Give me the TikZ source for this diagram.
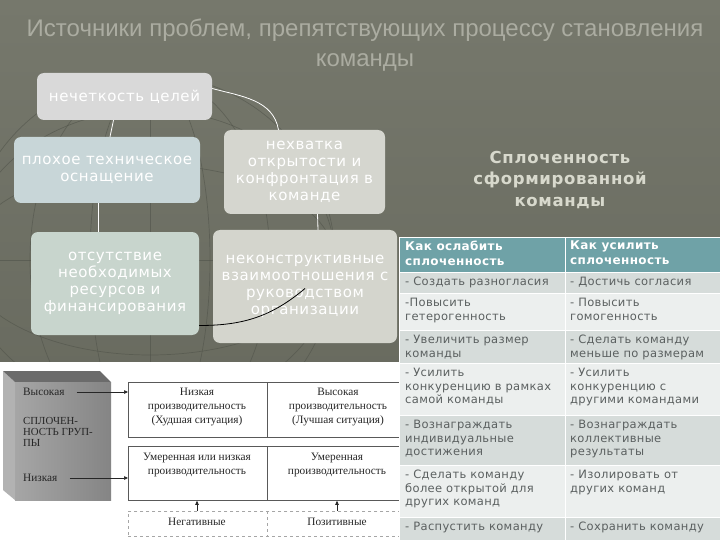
\documentclass[tikz,border=0pt]{standalone}
\usepackage{fontspec}
\setmainfont{DejaVu Sans}
\newfontfamily\titlefont{Liberation Sans}
\newfontfamily\serifru{Liberation Serif}
\newfontfamily\verd{DejaVu Sans}
\newfontfamily\verdsp[LetterSpace=4]{DejaVu Sans}
\newfontfamily\verdtab[LetterSpace=3]{DejaVu Sans}
\usetikzlibrary{arrows.meta}
\definecolor{bgtop}{HTML}{76786C}
\definecolor{bgbot}{HTML}{63655A}
\definecolor{titlec}{HTML}{ABACA1}
\definecolor{fA}{HTML}{D9D9D9}
\definecolor{fB}{HTML}{C8D6D8}
\definecolor{fC}{HTML}{D5D6CF}
\definecolor{fD}{HTML}{C8D5CD}
\definecolor{fE}{HTML}{D4D5CD}
\definecolor{splc}{HTML}{D8D9CD}
\definecolor{hdr}{HTML}{6FA2A7}
\definecolor{rowdark}{HTML}{D6DCDA}
\definecolor{rowlight}{HTML}{ECEFEE}
\definecolor{tabtxt}{HTML}{5B6060}
\definecolor{globec}{HTML}{4E5148}
\tikzset{
  probbox/.style={rounded corners=7pt, inner sep=2pt, text=white, align=center,
    font=\verdsp\fontsize{15}{17}\selectfont},
  link/.style={draw=white, line width=0.8pt},
  tcell/.style={anchor=north west, inner sep=0pt, align=left, text=tabtxt,
    font=\verdtab\fontsize{11.5}{13.5}\selectfont},
  thead/.style={anchor=north west, inner sep=0pt, align=left, text=white,
    font=\verdtab\bfseries\fontsize{12}{14.5}\selectfont},
  sertxt/.style={inner sep=0pt, text=black!85, align=center,
    font=\serifru\fontsize{11.3}{14}\selectfont},
  gridbox/.style={draw=black!65, line width=0.8pt, anchor=north west, inner sep=0pt},
  globe/.style={draw=globec, line width=0.7pt, opacity=0.55},
  smallarrow/.style={-{Triangle[length=4pt,width=3.5pt]}, line width=0.7pt, black!85}
}
\begin{document}
\begin{tikzpicture}[x=1pt,y=-1pt]
\useasboundingbox (0,0) rectangle (720,540);
\shade[top color=bgtop,bottom color=bgbot] (0,0) rectangle (720,540);

% globe wireframe (background decoration)
\begin{scope}
\clip (0,60) rectangle (398,362);
\draw[globe] (150,260) circle (185);
\draw[globe] (150,260) ellipse (185 and 95);
\draw[globe] (150,260) ellipse (185 and 150);
\draw[globe] (150,260) ellipse (60 and 185);
\draw[globe] (150,260) ellipse (120 and 185);
\draw[globe] (-35,260) -- (335,260);
\draw[globe] (150,75) -- (150,362);
\end{scope}

% title
\node[text=titlec, align=center, font=\titlefont\fontsize{24}{30}\selectfont] (title) at (365,45)
  {Источники проблем, препятствующих процессу становления\\команды};

% problem boxes
\node[probbox, fill=fA, minimum width=175pt, minimum height=47pt] (nech) at (124.5,96.5) {нечеткость целей};
\node[probbox, fill=fB, minimum width=186pt, minimum height=66pt] (ploh) at (107,170) {плохое техническое\\оснащение};
\node[probbox, fill=fC, minimum width=161pt, minimum height=84pt] (nehv) at (304.5,172) {нехватка\\открытости и\\конфронтация в\\команде};
\node[probbox, fill=fD, minimum width=168pt, minimum height=103pt] (ots) at (115,283.5) {отсутствие\\необходимых\\ресурсов и\\финансирования};
\node[probbox, fill=fE, minimum width=184pt, minimum height=113pt] (nekon) at (305,286.5) {неконструктивные\\взаимоотношения с\\руководством\\организации};

\draw[link] ([xshift=-11pt]nech.south) -- ([xshift=3pt]ploh.north);
\draw[link] ([yshift=8pt]nech.east) to[out=-15,in=100] ([xshift=-26pt]nehv.north);
\draw[link] ([xshift=-9pt]ploh.south) -- ([xshift=-17pt]ots.north);
\draw[link] ([xshift=13pt]nehv.south) -- ([xshift=13pt]nekon.north);
\draw[black, line width=0.8pt] ([yshift=-42pt]ots.east) to[out=0,in=-140] ([yshift=-2pt]nekon.center);

% heading on the right
\node[text=splc, align=center, font=\verdsp\bfseries\fontsize{16.5}{21.5}\selectfont] (spl) at (560,180)
  {Сплоченность\\сформированной\\команды};

% bottom-left picture
\fill[white] (0,362) rectangle (399,540);
\fill[black!30] (3,371) -- (15,382) -- (15,500) -- (3,490) -- cycle;
\fill[black!58] (3,371) -- (100,371) -- (111,382) -- (15,382) -- cycle;
\shade[left color=black!35, right color=black!48] (15,382) rectangle (111,500);
\node[sertxt, anchor=west] (vys) at (23,392) {Высокая};
\node[sertxt, anchor=west, align=left, font=\serifru\fontsize{10.8}{11}\selectfont] (splg) at (23,432) {СПЛОЧЕН-\\НОСТЬ ГРУП-\\ПЫ};
\node[sertxt, anchor=west] (niz) at (23,478) {Низкая};

\node[gridbox, minimum width=274pt, minimum height=55pt] (gb1) at (128,382) {};
\node[gridbox, minimum width=274pt, minimum height=54pt] (gb2) at (128,446) {};
\node[gridbox, draw=black!35, dashed, minimum width=274pt, minimum height=25pt] (gb3) at (128,511) {};
\draw[black!65, line width=0.8pt] (gb1.north -| 267,0) -- (gb1.south -| 267,0);
\draw[black!65, line width=0.8pt] (gb2.north -| 267,0) -- (gb2.south -| 267,0);
\draw[black!35, dashed, line width=0.8pt] (gb3.north -| 267,0) -- (gb3.south -| 267,0);

\draw[smallarrow] (vys.east) ++(12pt,0) -- (gb1.west |- vys.east);
\draw[smallarrow] (niz.east) ++(12pt,0) -- (gb2.west |- niz.east);

\node[sertxt] (c11) at (197,407) {Низкая\\производительность\\(Худшая ситуация)};
\node[sertxt] (c12) at (338,407) {Высокая\\производительность\\(Лучшая ситуация)};
\node[sertxt] (c21) at (197,465) {Умеренная или низкая\\производительность};
\node[sertxt] (c22) at (337,465) {Умеренная\\производительность};
\node[sertxt] (c31) at (197,522) {Негативные};
\node[sertxt] (c32) at (337,522) {Позитивные};
\draw[smallarrow] (gb3.north -| c31) -- (gb2.south -| c31);
\draw[smallarrow] (gb3.north -| c32) -- (gb2.south -| c32);

% table
\fill[hdr] (399,237) rectangle (720,272);
\fill[rowdark] (399,272) rectangle (720,293);
\fill[rowlight] (399,293) rectangle (720,330);
\fill[rowdark] (399,330) rectangle (720,363);
\fill[rowlight] (399,363) rectangle (720,415);
\fill[rowdark] (399,415) rectangle (720,465);
\fill[rowlight] (399,465) rectangle (720,517);
\fill[rowdark] (399,517) rectangle (720,540);
\foreach \yy in {237,272,293,330,363,415,465,517}
  \draw[white, line width=1pt] (399,\yy) -- (720,\yy);
\draw[white, line width=1pt] (399,237) -- (399,540);
\draw[white, line width=1pt] (565,237) -- (565,540);

\node[thead] (h1) at (405,241) {Как ослабить\\сплоченность};
\node[thead] (h2) at (570,241) {Как усилить\\сплоченность};
\node[tcell] (a1) at (405,277) {- Создать разногласия};
\node[tcell] (b1) at (570,277) {- Достичь согласия};
\node[tcell] (a2) at (405,298) {-Повысить\\гетерогенность};
\node[tcell] (b2) at (570,298) {- Повысить\\гомогенность};
\node[tcell] (a3) at (405,335) {- Увеличить размер\\команды};
\node[tcell] (b3) at (570,335) {- Сделать команду\\меньше по размерам};
\node[tcell] (a4) at (405,368) {- Усилить\\конкуренцию в рамках\\самой команды};
\node[tcell] (b4) at (570,368) {- Усилить\\конкуренцию с\\другими командами};
\node[tcell] (a5) at (405,420) {- Вознаграждать\\индивидуальные\\достижения};
\node[tcell] (b5) at (570,420) {- Вознаграждать\\коллективные\\результаты};
\node[tcell] (a6) at (405,470) {- Сделать команду\\более открытой для\\других команд};
\node[tcell] (b6) at (570,470) {- Изолировать от\\других команд};
\node[tcell] (a7) at (405,522) {- Распустить команду};
\node[tcell] (b7) at (570,522) {- Сохранить команду};
\end{tikzpicture}
\end{document}
